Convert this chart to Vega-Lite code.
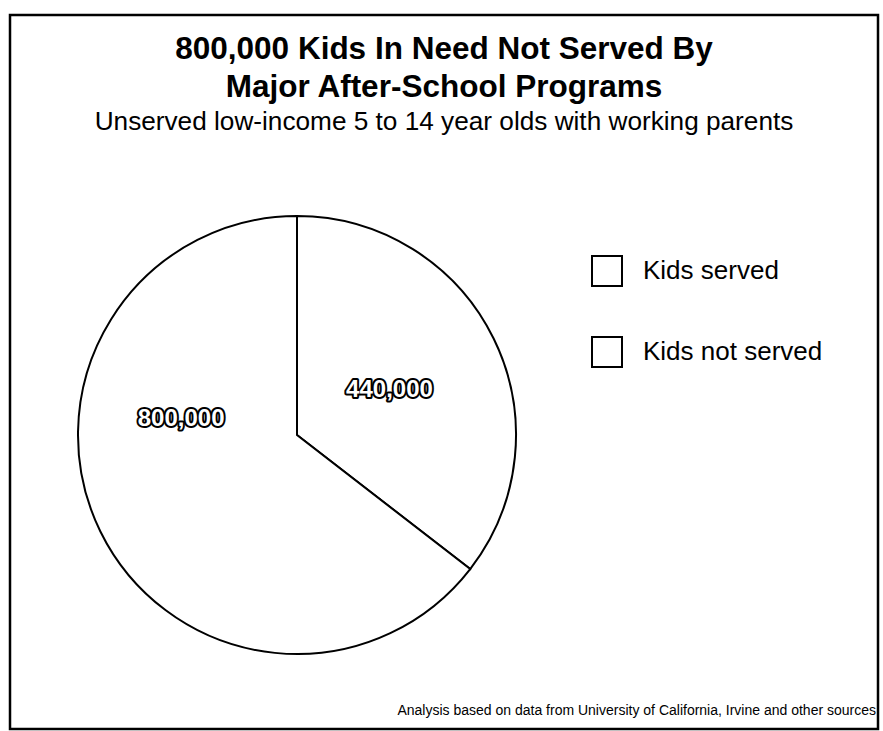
{
  "$schema": "https://vega.github.io/schema/vega-lite/v6.json",
  "width": 868,
  "height": 714,
  "autosize": {"type": "none"},
  "padding": {"left": 10, "top": 15, "right": 5, "bottom": 2},
  "background": "white",
  "config": {
    "view": {"stroke": "black", "strokeWidth": 2.5},
    "font": "Liberation Sans"
  },
  "title": {
    "text": ["800,000 Kids In Need Not Served By", "Major After-School Programs"],
    "subtitle": "Unserved low-income 5 to 14 year olds with working parents",
    "anchor": "middle",
    "font": "Liberation Sans",
    "fontSize": 31.5,
    "fontWeight": "bold",
    "color": "black",
    "lineHeight": 38,
    "subtitleFont": "Liberation Sans",
    "subtitleFontSize": 26.2,
    "subtitleColor": "black",
    "subtitlePadding": 5,
    "offset": -120
  },
  "data": {
    "values": [
      {"cat": "Kids served", "value": 440000},
      {"cat": "Kids not served", "value": 800000}
    ]
  },
  "resolve": {"scale": {"theta": "independent"}},
  "layer": [
    {
      "mark": {"type": "arc", "outerRadius": 219, "stroke": "black", "strokeWidth": 2},
      "encoding": {
        "x": {"datum": 287, "type": "quantitative", "scale": {"domain": [0, 868], "nice": false, "zero": false}, "axis": null},
        "y": {"datum": 420, "type": "quantitative", "scale": {"domain": [714, 0], "nice": false, "zero": false}, "axis": null},
        "theta": {"field": "value", "type": "quantitative", "stack": true},
        "order": {"field": "value", "sort": "ascending"},
        "color": {
          "field": "cat",
          "type": "nominal",
          "scale": {"domain": ["Kids served", "Kids not served"], "range": ["white", "white"]},
          "legend": {
            "title": null,
            "orient": "none",
            "legendX": 581,
            "legendY": 240,
            "padding": 0,
            "symbolType": "square",
            "symbolSize": 900,
            "symbolStrokeColor": "black",
            "symbolStrokeWidth": 2,
            "symbolFillColor": "white",
            "labelFont": "Liberation Sans",
            "labelFontSize": 26,
            "labelColor": "black",
            "labelOffset": 20,
            "labelLimit": 400,
            "rowPadding": 43
          }
        }
      }
    },
    {
      "mark": {"type": "text", "radius": 103, "font": "Liberation Sans", "fontWeight": "bold", "fontSize": 24, "color": "black", "stroke": "black", "strokeWidth": 4, "strokeJoin": "round"},
      "encoding": {
        "x": {"datum": 287, "type": "quantitative"},
        "y": {"datum": 420, "type": "quantitative"},
        "theta": {"field": "value", "type": "quantitative", "stack": true},
        "order": {"field": "value", "sort": "ascending"},
        "text": {"condition": {"test": "datum.cat !== 'Kids served'", "value": ""}, "field": "value", "type": "quantitative", "format": ","}
      }
    },
    {
      "mark": {"type": "text", "radius": 103, "font": "Liberation Sans", "fontWeight": "bold", "fontSize": 24, "color": "white"},
      "encoding": {
        "x": {"datum": 287, "type": "quantitative"},
        "y": {"datum": 420, "type": "quantitative"},
        "theta": {"field": "value", "type": "quantitative", "stack": true},
        "order": {"field": "value", "sort": "ascending"},
        "text": {"condition": {"test": "datum.cat !== 'Kids served'", "value": ""}, "field": "value", "type": "quantitative", "format": ","}
      }
    },
    {
      "mark": {"type": "text", "radius": 117, "font": "Liberation Sans", "fontWeight": "bold", "fontSize": 24, "color": "black", "stroke": "black", "strokeWidth": 4, "strokeJoin": "round"},
      "encoding": {
        "x": {"datum": 287, "type": "quantitative"},
        "y": {"datum": 420, "type": "quantitative"},
        "theta": {"field": "value", "type": "quantitative", "stack": true, "scale": {"range": [0.5934, 6.8766]}},
        "order": {"field": "value", "sort": "ascending"},
        "text": {"condition": {"test": "datum.cat !== 'Kids not served'", "value": ""}, "field": "value", "type": "quantitative", "format": ","}
      }
    },
    {
      "mark": {"type": "text", "radius": 117, "font": "Liberation Sans", "fontWeight": "bold", "fontSize": 24, "color": "white"},
      "encoding": {
        "x": {"datum": 287, "type": "quantitative"},
        "y": {"datum": 420, "type": "quantitative"},
        "theta": {"field": "value", "type": "quantitative", "stack": true, "scale": {"range": [0.5934, 6.8766]}},
        "order": {"field": "value", "sort": "ascending"},
        "text": {"condition": {"test": "datum.cat !== 'Kids not served'", "value": ""}, "field": "value", "type": "quantitative", "format": ","}
      }
    },
    {
      "data": {"values": [{"note": "Analysis based on data from University of California, Irvine and other sources"}]},
      "mark": {"type": "text", "align": "right", "baseline": "alphabetic", "font": "Liberation Sans", "fontSize": 14, "color": "black"},
      "encoding": {
        "x": {"datum": 866, "type": "quantitative"},
        "y": {"datum": 700, "type": "quantitative"},
        "text": {"field": "note", "type": "nominal"}
      }
    }
  ]
}
